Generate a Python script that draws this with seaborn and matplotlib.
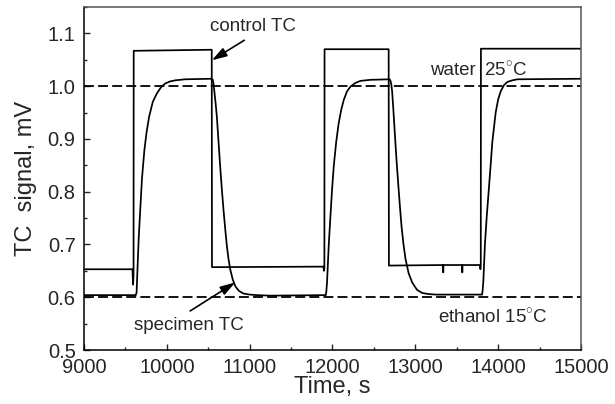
import numpy as np
import pandas as pd
import matplotlib
matplotlib.use("Agg")
import matplotlib.pyplot as plt
import seaborn as sns
from matplotlib.ticker import MultipleLocator

# ---- data ----
control_t = [9000, 9585, 9592, 9598, 9600, 10542, 10545, 11890, 11897, 11902, 11904,
             12678, 12681, 13334, 13337, 13340, 13564, 13567, 13570, 13780, 13786,
             13790, 13792, 15000]
control_v = [0.653, 0.653, 0.624, 0.640, 1.067, 1.069, 0.657, 0.658, 0.650, 0.655, 1.070,
             1.070, 0.660, 0.661, 0.647, 0.661, 0.661, 0.647, 0.661, 0.661, 0.653,
             0.660, 1.071, 1.071]

specimen_t = [9000, 9625, 9635, 9645, 9660, 9677, 9700, 9729, 9755, 9786, 9830, 9879, 9930,
              9979, 10040, 10100, 10221, 10540, 10555, 10565, 10575, 10590, 10604, 10624,
              10644, 10664, 10684, 10705, 10725, 10745, 10765, 10795, 10826, 10870, 10926,
              11000, 11088, 11250, 11918, 11925, 11934, 11955, 11975, 11995, 12015, 12045,
              12075, 12105, 12136, 12175, 12216, 12275, 12337, 12458, 12690, 12700, 12710,
              12720, 12735, 12752, 12772, 12793, 12813, 12833, 12857, 12882, 12920, 12962,
              13020, 13083, 13160, 13250, 13805, 13812, 13821, 13840, 13862, 13885, 13909,
              13930, 13970, 14000, 14030, 14070, 14111, 14170, 14232, 15000]
specimen_v = [0.604, 0.604, 0.609, 0.650, 0.710, 0.760, 0.825, 0.879, 0.912, 0.942, 0.970,
              0.986, 0.998, 1.005, 1.009, 1.011, 1.013, 1.014, 1.012, 1.003, 0.988, 0.966,
              0.942, 0.895, 0.848, 0.805, 0.766, 0.729, 0.697, 0.672, 0.653, 0.634, 0.621,
              0.612, 0.607, 0.605, 0.604, 0.603, 0.604, 0.610, 0.628, 0.700, 0.753, 0.805,
              0.848, 0.895, 0.930, 0.955, 0.974, 0.990, 0.999, 1.006, 1.010, 1.012, 1.013,
              1.010, 1.003, 0.990, 0.955, 0.911, 0.862, 0.816, 0.774, 0.735, 0.700, 0.672,
              0.645, 0.628, 0.614, 0.608, 0.606, 0.605, 0.605, 0.612, 0.630, 0.700, 0.753,
              0.800, 0.850, 0.895, 0.950, 0.975, 0.990, 1.002, 1.008, 1.011, 1.013, 1.014]

water_level = 1.0
ethanol_level = 0.6

x_ticks = [9000, 10000, 11000, 12000, 13000, 14000, 15000]
y_ticks = [0.5, 0.6, 0.7, 0.8, 0.9, 1.0, 1.1]

# ---- style ----
sns.set_style("ticks")
plt.rcParams['font.family'] = ['Liberation Sans', 'DejaVu Sans']
plt.rcParams['mathtext.fontset'] = 'custom'
plt.rcParams['mathtext.rm'] = 'Liberation Sans'

fig = plt.figure(figsize=(6.15, 4.04), dpi=100)
ax = fig.add_axes([84/615, 1-350/404, (581-84)/615, (350-7)/404])

ctrl = pd.DataFrame({"t": control_t, "v": control_v})
spec = pd.DataFrame({"t": specimen_t, "v": specimen_v})

sns.lineplot(data=ctrl, x="t", y="v", sort=False, estimator=None, ax=ax,
             color="black", linewidth=1.25)
sns.lineplot(data=spec, x="t", y="v", sort=False, estimator=None, ax=ax,
             color="black", linewidth=1.25)

ax.axhline(water_level, color="black", linewidth=1.3, linestyle=(0, (5.5, 2.3)))
ax.axhline(ethanol_level, color="black", linewidth=1.3, linestyle=(0, (5.5, 2.3)))

ax.set_xlim(9000, 15000)
ax.set_ylim(0.5, 1.15)
ax.set_xticks(x_ticks)
ax.set_yticks(y_ticks)
ax.set_xticklabels([str(v) for v in x_ticks])
ax.set_yticklabels([f"{v:.1f}" for v in y_ticks])
ax.xaxis.set_minor_locator(MultipleLocator(500))
ax.yaxis.set_minor_locator(MultipleLocator(0.05))
ax.tick_params(which="major", direction="in", length=4.3, width=1.0, labelsize=14.5,
               pad=6, top=False, right=False)
ax.tick_params(which="minor", direction="in", length=2.4, width=1.0, top=False, right=False)
for s in ax.spines.values():
    s.set_visible(True)
    s.set_linewidth(1.1)
    s.set_color("black")
ax.spines['top'].set_color("#555555")
ax.spines['right'].set_color("#555555")

ax.set_xlabel("Time, s", fontsize=17, labelpad=-1)
ax.set_ylabel("TC  signal, mV", fontsize=17, labelpad=8)

arrow = dict(arrowstyle="-|>,head_length=0.9,head_width=0.28", color="black",
             lw=1.2, shrinkA=0, shrinkB=0)
ax.text(11044, 1.113, "control TC", fontsize=13.5, ha="center", va="center")
ax.annotate("", xy=(10544, 1.049), xytext=(10935, 1.087), arrowprops=arrow)
ax.text(10270, 0.547, "specimen TC", fontsize=13.5, ha="center", va="center")
ax.annotate("", xy=(10826, 0.628), xytext=(10282, 0.574), arrowprops=arrow)
ax.text(13730, 1.030, "water", fontsize=13.5, ha="right", va="center")
ax.text(13835, 1.030, "25$^{\\circ}$C", fontsize=13.5, ha="left", va="center")
ax.text(13934, 0.562, "ethanol 15$^{\\circ}$C", fontsize=13.5, ha="center", va="center")

fig.savefig("out.png", dpi=100)
